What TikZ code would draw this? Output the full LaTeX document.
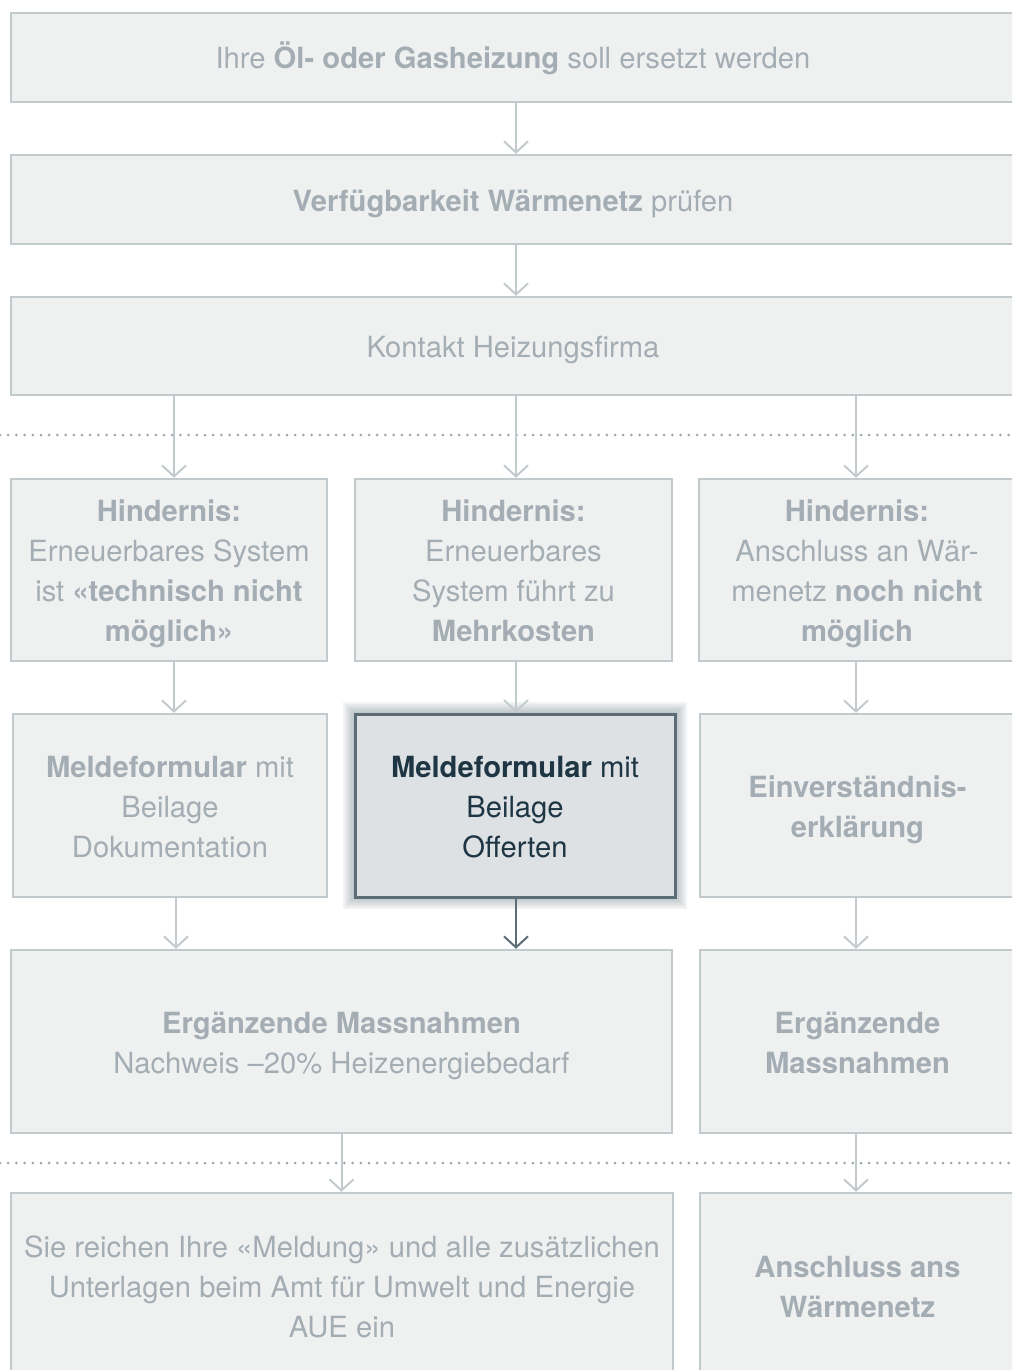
\documentclass[tikz,border=0pt]{standalone}
\usepackage{fontspec}
\setmainfont{TeX Gyre Heros}
\usetikzlibrary{arrows.meta}

\definecolor{boxfill}{HTML}{EFF1F1}
\definecolor{boxline}{HTML}{C3CACD}
\definecolor{boxtext}{HTML}{A3ADB3}
\definecolor{hlfill}{HTML}{DDE1E4}
\definecolor{hlline}{HTML}{5B6E78}
\definecolor{hltext}{HTML}{1E3644}
\definecolor{dotline}{HTML}{9EA9AF}

% strut for the first line of a box
\newcommand{\firstln}{\rule{0pt}{35pt}}

\tikzset{
	box/.style={draw=boxline, fill=boxfill, line width=2.5pt, text=boxtext, align=center, inner sep=0pt, font=\fontsize{29.2}{40}\selectfont,
		execute at end node={\rule[-12pt]{0pt}{12pt}}},
	hlbox/.style={box, draw=hlline, fill=hlfill, text=hltext, line width=3pt},
	flow/.style={draw=boxline, line width=2pt, -{Straight Barb[length=11pt,width=24pt,line width=2pt]}},
	hlflow/.style={flow, draw=hlline, line width=2.5pt},
	sep/.style={draw=dotline, line width=3pt, line cap=round, dash pattern=on 0pt off 8.2pt}
}

\begin{document}
\begin{tikzpicture}[x=1pt, y=-1pt]
	\useasboundingbox (0,0) rectangle (1012,1370);
	\clip (0,0) rectangle (1012,1370);

	%Top row
	\node[box, minimum width=1004pt, minimum height=89pt] (start) at (513,57.5) {\firstln Ihre \textbf{Öl- oder Gasheizung} soll ersetzt werden};
	\node[box, minimum width=1004pt, minimum height=89pt] (netz) at (513,199.5) {\firstln\textbf{Verfügbarkeit Wärmenetz} prüfen};
	\node[box, minimum width=1004pt, minimum height=98pt] (firma) at (513,346) {\firstln Kontakt Heizungsfirma};

	%Separator
	\draw[sep] (0,435) -- (1012,435);

	%Hindernisse
	\node[box, minimum width=316pt, minimum height=182pt] (hTech) at (169,570) {\firstln\textbf{Hindernis:}\\Erneuerbares System\\ist \textbf{«technisch nicht}\\\textbf{möglich»}};
	\node[box, minimum width=317pt, minimum height=182pt] (hKost) at (513.5,570) {\firstln\textbf{Hindernis:}\\Erneuerbares\\System führt zu\\\textbf{Mehrkosten}};
	\node[box, minimum width=316pt, minimum height=182pt] (hNetz) at (857,570) {\firstln\textbf{Hindernis:}\\Anschluss an Wär-\\menetz \textbf{noch nicht}\\\textbf{möglich}};

	%Formulare
	\foreach \i in {2,4,...,12}
		\fill[hlline, opacity=0.08] (355-\i,714-\i) rectangle (675+\i,897+\i);
	\node[box, minimum width=314pt, minimum height=183pt] (mDoku) at (170,805.5) {\firstln\textbf{Meldeformular} mit\\Beilage\\Dokumentation};
	\node[hlbox, minimum width=320pt, minimum height=183pt] (mOff) at (515,805.5) {\firstln\textbf{Meldeformular} mit\\Beilage\\Offerten};
	\node[box, minimum width=315pt, minimum height=183pt] (mEinv) at (857.5,805.5) {\firstln\textbf{Einverständnis-}\\\textbf{erklärung}};

	%Massnahmen
	\node[box, minimum width=661pt, minimum height=183pt] (massA) at (341.5,1041.5) {\firstln\textbf{Ergänzende Massnahmen}\\Nachweis –20\% Heizenergiebedarf};
	\node[box, minimum width=315pt, minimum height=183pt] (massB) at (857.5,1041.5) {\firstln\textbf{Ergänzende}\\\textbf{Massnahmen}};

	%Separator
	\draw[sep] (0,1163) -- (1012,1163);

	%Last row
	\node[box, minimum width=662pt, minimum height=186pt] (melden) at (342,1286) {\firstln Sie reichen Ihre «Meldung» und alle zusätzlichen\\Unterlagen beim Amt für Umwelt und Energie\\AUE ein};
	\node[box, minimum width=315pt, minimum height=186pt] (anschl) at (857.5,1286) {\firstln\textbf{Anschluss ans}\\\textbf{Wärmenetz}};

	%Arrow columns
	\coordinate (aMid) at ([xshift=3pt]start.south);
	\coordinate (aTech) at ([xshift=5pt]hTech.north);
	\coordinate (aKost) at ([xshift=2.5pt]hKost.north);
	\coordinate (aNetz) at ([xshift=-1pt]hNetz.north);
	\coordinate (aDoku) at ([xshift=6pt]mDoku.south);
	\coordinate (aOff) at ([xshift=1pt]mOff.south);
	\coordinate (aEinv) at ([xshift=-1.5pt]mEinv.south);

	%Arrows
	\draw[flow] (aMid) -- (aMid |- netz.north);
	\draw[flow] (aMid |- netz.south) -- (aMid |- firma.north);
	\draw[flow] (firma.south -| aTech) -- (aTech);
	\draw[flow] (firma.south -| aKost) -- (aKost);
	\draw[flow] (firma.south -| aNetz) -- (aNetz);
	\draw[flow] (hTech.south -| aTech) -- (mDoku.north -| aTech);
	\draw[flow] (hKost.south -| aKost) -- (mOff.north -| aKost);
	\draw[flow] (hNetz.south -| aNetz) -- (mEinv.north -| aNetz);
	\draw[flow] (aDoku) -- (massA.north -| aDoku);
	\draw[hlflow] (aOff) -- (massA.north -| aOff);
	\draw[flow] (aEinv) -- (massB.north -| aEinv);
	\draw[flow] (massA.south) -- (melden.north -| massA.south);
	\draw[flow] (massB.south -| aEinv) -- (anschl.north -| aEinv);

\end{tikzpicture}
\end{document}
